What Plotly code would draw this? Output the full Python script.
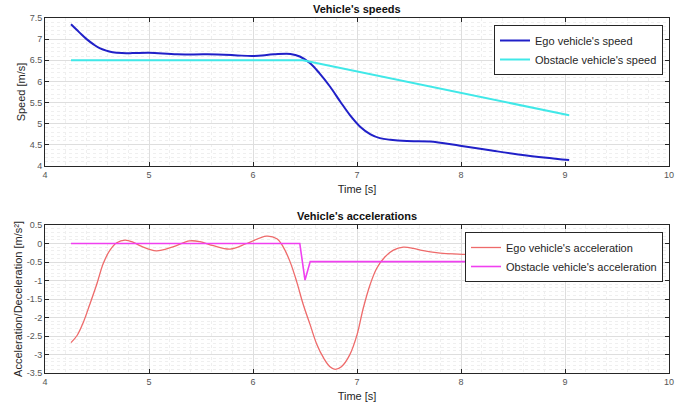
import plotly.graph_objects as go

# ---------------- data ----------------
ego_speed_t = [4.25, 4.33, 4.40, 4.47, 4.53, 4.60, 4.65, 4.74, 4.84, 5.00, 5.27, 5.56, 5.82, 6.00,
               6.20, 6.36, 6.45, 6.55, 6.64, 6.74, 6.84, 6.93, 7.03, 7.13, 7.22, 7.32, 7.48, 7.70,
               7.99, 8.31, 8.63, 9.04]
ego_speed_v = [7.35, 7.16, 7.00, 6.87, 6.78, 6.72, 6.69, 6.67, 6.67, 6.68, 6.64, 6.64, 6.62, 6.60,
               6.64, 6.65, 6.59, 6.43, 6.19, 5.88, 5.52, 5.21, 4.93, 4.75, 4.66, 4.62, 4.59, 4.58,
               4.48, 4.36, 4.25, 4.14]

obs_speed_t = [4.25, 6.48, 9.04]
obs_speed_v = [6.5, 6.5, 5.2]

ego_acc_t = [4.25, 4.31, 4.37, 4.43, 4.50, 4.56, 4.625, 4.69, 4.77, 4.85, 4.93, 5.07, 5.23,
             5.39, 5.49, 5.62, 5.78, 5.94, 6.13, 6.23, 6.29, 6.356, 6.42, 6.48, 6.55, 6.61,
             6.68, 6.74, 6.79, 6.85, 6.93, 7.00, 7.06, 7.125, 7.19, 7.27, 7.35, 7.445, 7.54,
             7.61, 7.80, 8.12, 8.50, 9.04]
ego_acc_a = [-2.68, -2.48, -2.12, -1.65, -1.08, -0.54, -0.18, 0.02, 0.09, 0.03, -0.08, -0.20, -0.09,
             0.07, 0.05, -0.06, -0.15, 0.0, 0.20, 0.13, -0.09, -0.49, -1.03, -1.62, -2.20, -2.70,
             -3.10, -3.33, -3.40, -3.33, -3.01, -2.47, -1.75, -1.12, -0.67, -0.36, -0.18, -0.10, -0.13,
             -0.18, -0.26, -0.30, -0.30, -0.30]

obs_acc_t = [4.25, 6.45, 6.50, 6.55, 9.04]
obs_acc_a = [0.0, 0.0, -0.99, -0.49, -0.49]

x_ticks = [4, 5, 6, 7, 8, 9, 10]
x_ticktext = ["4", "5", "6", "7", "8", "9", "10"]
speed_ticks = [4, 4.5, 5, 5.5, 6, 6.5, 7, 7.5]
speed_ticktext = ["4", "4.5", "5", "5.5", "6", "6.5", "7", "7.5"]
acc_ticks = [-3.5, -3, -2.5, -2, -1.5, -1, -0.5, 0, 0.5]
acc_ticktext = ["-3.5", "-3", "-2.5", "-2", "-1.5", "-1", "-0.5", "0", "0.5"]

# ---------------- figure ----------------
W, H = 686, 408
FONT = "Liberation Sans, Arial, sans-serif"
AXC = "#555555"

fig = go.Figure()
fig.add_trace(go.Scatter(x=ego_speed_t, y=ego_speed_v, mode="lines", name="Ego vehicle's speed",
                         line=dict(color="#2020c8", width=2, shape="spline", smoothing=1.0),
                         xaxis="x", yaxis="y", legend="legend"))
fig.add_trace(go.Scatter(x=obs_speed_t, y=obs_speed_v, mode="lines", name="Obstacle vehicle's speed",
                         line=dict(color="#40e8e8", width=2),
                         xaxis="x", yaxis="y", legend="legend"))
fig.add_trace(go.Scatter(x=ego_acc_t, y=ego_acc_a, mode="lines", name="Ego vehicle's acceleration",
                         line=dict(color="#ee6a6a", width=1.3, shape="spline", smoothing=1.0),
                         xaxis="x2", yaxis="y2", legend="legend2"))
fig.add_trace(go.Scatter(x=obs_acc_t, y=obs_acc_a, mode="lines", name="Obstacle vehicle's acceleration",
                         line=dict(color="#f040f0", width=1.6),
                         xaxis="x2", yaxis="y2", legend="legend2"))

xdom = [45 / W, 669 / W]
top_dom = [1 - 166 / H, 1 - 18 / H]
bot_dom = [1 - 373 / H, 1 - 225 / H]


def axis_common(**kw):
    d = dict(showline=True, linecolor="#262626", linewidth=1, mirror="ticks",
             ticks="inside", ticklen=4, tickcolor="#262626", automargin=False,
             showgrid=True, gridcolor="#dedede", gridwidth=1, zeroline=False,
             tickfont=dict(family=FONT, size=9, color=AXC),
             title_font=dict(family=FONT, size=11, color="#262626"))
    d.update(kw)
    return d


fig.update_layout(
    width=W, height=H, margin=dict(l=0, r=0, t=0, b=0),
    paper_bgcolor="white", plot_bgcolor="white",
    font=dict(family=FONT),
    xaxis=axis_common(domain=xdom, range=[4, 10], anchor="y", tickvals=x_ticks, ticktext=x_ticktext,
                      minor=dict(dtick=0.2, showgrid=True, gridcolor="#efefef", griddash="dot", ticks=""),
                      title=dict(text="Time [s]", standoff=6)),
    yaxis=axis_common(domain=top_dom, range=[4, 7.5], anchor="x", tickvals=speed_ticks, ticktext=speed_ticktext,
                      minor=dict(dtick=0.1, showgrid=True, gridcolor="#efefef", griddash="dot", ticks=""),
                      title=dict(text="Speed [m/s]", standoff=1)),
    xaxis2=axis_common(domain=xdom, range=[4, 10], anchor="y2", tickvals=x_ticks, ticktext=x_ticktext,
                       minor=dict(dtick=0.2, showgrid=True, gridcolor="#efefef", griddash="dot", ticks=""),
                       title=dict(text="Time [s]", standoff=6)),
    yaxis2=axis_common(domain=bot_dom, range=[-3.5, 0.5], anchor="x2", tickvals=acc_ticks, ticktext=acc_ticktext,
                       minor=dict(dtick=0.1, showgrid=True, gridcolor="#efefef", griddash="dot", ticks=""),
                       title=dict(text="Acceleration/Deceleration [m/s²]", standoff=1)),
    legend=dict(x=663 / W, y=1 - 25 / H, xanchor="right", yanchor="top",
                bgcolor="white", bordercolor="#262626", borderwidth=1,
                font=dict(family=FONT, size=11, color="#262626"), tracegroupgap=0,
                itemwidth=30),
    legend2=dict(x=663 / W, y=1 - 232 / H, xanchor="right", yanchor="top",
                 bgcolor="white", bordercolor="#262626", borderwidth=1,
                 font=dict(family=FONT, size=11, color="#262626"), tracegroupgap=0,
                 itemwidth=30),
    annotations=[
        dict(text="<b>Vehicle's speeds</b>", x=(45 + 669) / 2 / W, y=1 - 9 / H, xref="paper", yref="paper",
             showarrow=False, font=dict(family=FONT, size=11, color="#111111"), yanchor="middle"),
        dict(text="<b>Vehicle's accelerations</b>", x=(45 + 669) / 2 / W, y=1 - 216 / H, xref="paper", yref="paper",
             showarrow=False, font=dict(family=FONT, size=11, color="#111111"), yanchor="middle"),
    ],
)

fig.write_html("out.html", config={"displayModeBar": False},
               post_script="document.body.style.margin='0px';document.body.style.padding='0px';"
                           "document.body.style.overflow='hidden';")
